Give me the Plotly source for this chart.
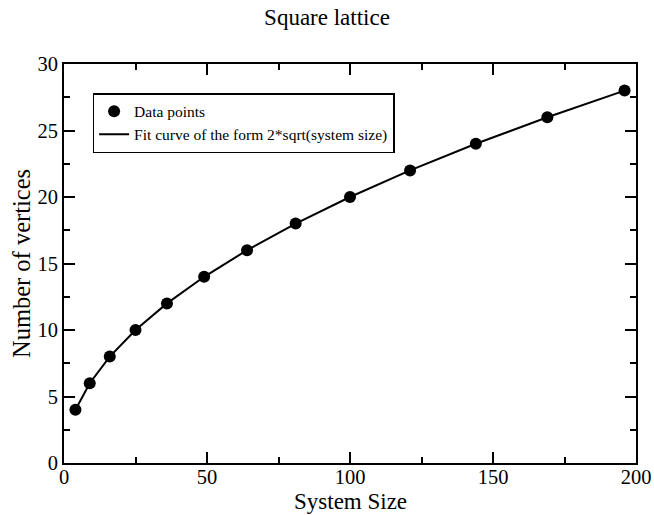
import plotly.graph_objects as go

system_size = [4, 9, 16, 25, 36, 49, 64, 81, 100, 121, 144, 169, 196]
vertices = [4, 6, 8, 10, 12, 14, 16, 18, 20, 22, 24, 26, 28]
fit_values = [4, 6, 8, 10, 12, 14, 16, 18, 20, 22, 24, 26, 28]

font = "Liberation Serif, Times New Roman, serif"

fig = go.Figure()
fig.add_trace(go.Scatter(x=system_size, y=fit_values, mode="lines",
                         name="Fit curve of the form 2*sqrt(system size)",
                         line=dict(color="black", width=2)))
fig.add_trace(go.Scatter(x=system_size, y=vertices, mode="markers",
                         name="Data points",
                         marker=dict(color="black", size=12, symbol="circle")))

axis_common = dict(showgrid=False, zeroline=False, showline=True, linecolor="black",
                   linewidth=2, mirror="allticks", ticks="inside", ticklen=11,
                   tickwidth=1.5, tickcolor="black", automargin=False,
                   tickfont=dict(family=font, size=20.5, color="black"))

fig.update_xaxes(range=[0, 200], tick0=0, dtick=50, ticklabelstandoff=-6,
                 minor=dict(ticks="inside", ticklen=6, dtick=25, tickcolor="black", tickwidth=1.5),
                 **axis_common)
fig.update_yaxes(range=[0, 30], tick0=0, dtick=5,
                 minor=dict(ticks="inside", ticklen=6, dtick=2.5, tickcolor="black", tickwidth=1.5),
                 title=dict(text="Number of vertices", font=dict(family=font, size=24.5, color="black"), standoff=0),
                 **axis_common)

fig.add_annotation(text="System Size", xref="paper", yref="paper", x=0.5, y=-38 / 399,
                   xanchor="center", yanchor="middle", showarrow=False,
                   font=dict(family=font, size=23, color="black"))

fig.update_layout(
    width=654, height=515,
    margin=dict(l=64, r=18, t=64, b=52),
    plot_bgcolor="white", paper_bgcolor="white",
    title=dict(text="Square lattice", x=0.5, xanchor="center", y=0.967, yanchor="middle",
               font=dict(family=font, size=23, color="black")),
    legend=dict(x=0.05, y=0.927, xanchor="left", yanchor="top",
                bordercolor="black", borderwidth=1.5, bgcolor="white",
                font=dict(family=font, size=15.5, color="black"),
                traceorder="reversed", tracegroupgap=0, itemwidth=30),
    showlegend=True,
)

fig.write_html("out.html")
